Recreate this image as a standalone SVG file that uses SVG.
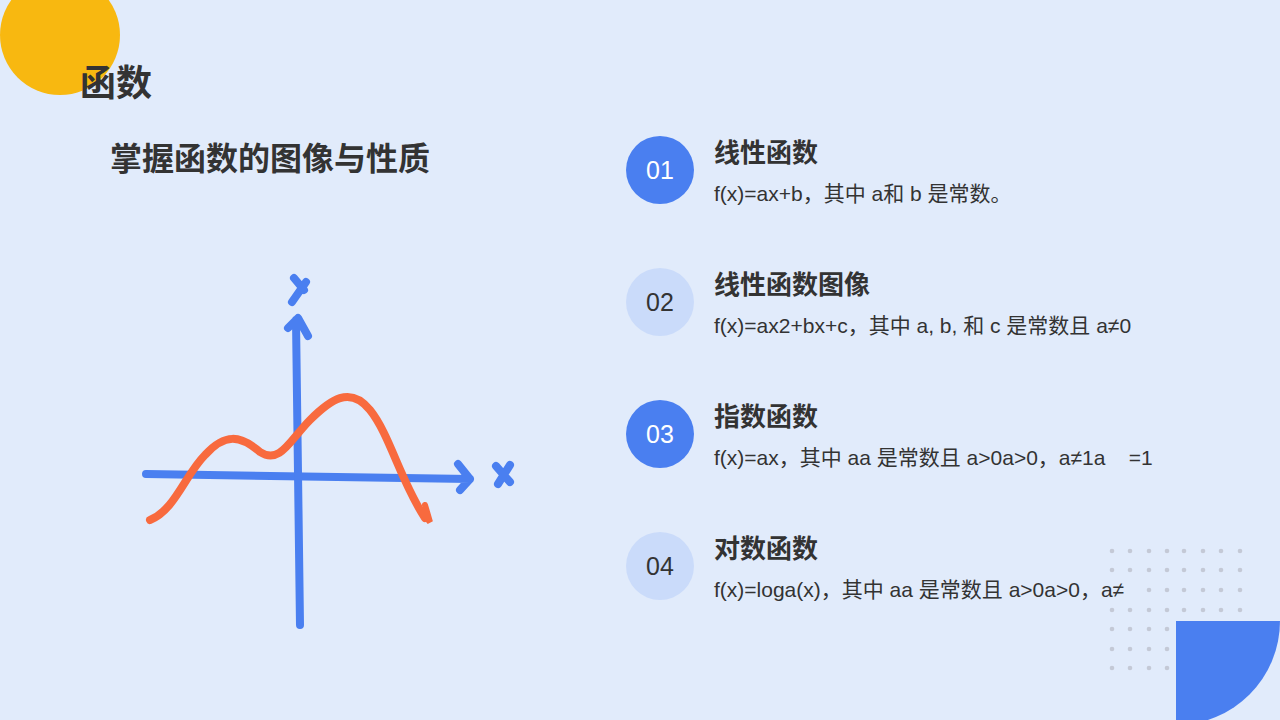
<svg xmlns="http://www.w3.org/2000/svg" width="1280" height="720" viewBox="0 0 1280 720">
<style>
.t{font-family:"Liberation Sans","Noto Sans CJK SC",sans-serif;fill:#333}
.h{font-size:26px;font-weight:bold}
.d{font-size:21px;fill:#333}
.n{font-family:"Liberation Sans",sans-serif;font-size:25px;text-anchor:middle}
.ax{fill:none;stroke:#4a7ff0;stroke-width:8;stroke-linecap:round;stroke-linejoin:round}
.dot{fill:#c4c9d6}
</style>
<rect width="1280" height="720" fill="#e1ebfb"/>
<circle cx="60" cy="35" r="60" fill="#f8b810"/>
<text class="t" x="80" y="96" font-size="36" font-weight="bold">函数</text>
<text class="t" x="110" y="170" font-size="32" font-weight="bold">掌握函数的图像与性质</text>
<g id="graph">
<path class="ax" d="M146 474 L470 479 M458 464 L470 479 L460 490"/>
<path class="ax" d="M300 625 L296 320 M288 328 L298 318 L308 336"/>
<path class="ax" d="M496 466 L510 482 M510 465 L498 484"/>
<path class="ax" d="M292 302 L306 282 M294 278 L304 290"/>
<path d="M150 520 C175 510 185 475 205 455 C225 433 240 435 260 452 C280 465 290 440 310 420 C330 400 350 385 370 410 C390 435 400 480 425 518" fill="none" stroke="#f86a3e" stroke-width="8" stroke-linecap="round"/>
<path d="M420 510 L430 522 L425 505" fill="none" stroke="#f86a3e" stroke-width="6" stroke-linecap="round"/>
</g>
<g id="item1"><circle cx="660" cy="170" r="34" fill="#4a7ff0"/><text class="n" x="660" y="179" fill="#fff">01</text>
<text class="t h" x="714" y="162">线性函数</text><text class="t d" x="714" y="201">f(x)=ax+b，其中 a和 b 是常数。</text></g>
<g id="item2"><circle cx="660" cy="302" r="34" fill="#cadbfa"/><text class="n" x="660" y="311" fill="#333">02</text>
<text class="t h" x="714" y="294">线性函数图像</text><text class="t d" x="714" y="333">f(x)=ax2+bx+c，其中 a, b, 和 c 是常数且 a≠0</text></g>
<g id="item3"><circle cx="660" cy="434" r="34" fill="#4a7ff0"/><text class="n" x="660" y="443" fill="#fff">03</text>
<text class="t h" x="714" y="426">指数函数</text><text class="t d" x="714" y="465" xml:space="preserve">f(x)=ax，其中 aa 是常数且 a&gt;0a&gt;0，a≠1a    =1</text></g>
<g id="item4"><circle cx="660" cy="566" r="34" fill="#cadbfa"/><text class="n" x="660" y="575" fill="#333">04</text>
<text class="t h" x="714" y="558">对数函数</text></g>
<g id="dots">
<g class="dot">
<circle cx="1112" cy="551" r="2.3"/><circle cx="1130" cy="551" r="2.3"/><circle cx="1149" cy="551" r="2.3"/><circle cx="1167" cy="551" r="2.3"/><circle cx="1184" cy="551" r="2.3"/><circle cx="1203" cy="551" r="2.3"/><circle cx="1221" cy="551" r="2.3"/><circle cx="1240" cy="551" r="2.3"/>
<circle cx="1112" cy="570" r="2.3"/><circle cx="1130" cy="570" r="2.3"/><circle cx="1149" cy="570" r="2.3"/><circle cx="1167" cy="570" r="2.3"/><circle cx="1184" cy="570" r="2.3"/><circle cx="1203" cy="570" r="2.3"/><circle cx="1221" cy="570" r="2.3"/><circle cx="1240" cy="570" r="2.3"/>
<circle cx="1149" cy="590" r="2.3"/><circle cx="1167" cy="590" r="2.3"/><circle cx="1184" cy="590" r="2.3"/><circle cx="1203" cy="590" r="2.3"/><circle cx="1221" cy="590" r="2.3"/><circle cx="1240" cy="590" r="2.3"/>
<circle cx="1112" cy="610" r="2.3"/><circle cx="1130" cy="610" r="2.3"/><circle cx="1149" cy="610" r="2.3"/><circle cx="1167" cy="610" r="2.3"/><circle cx="1184" cy="610" r="2.3"/><circle cx="1203" cy="610" r="2.3"/><circle cx="1221" cy="610" r="2.3"/><circle cx="1240" cy="610" r="2.3"/>
<circle cx="1112" cy="629" r="2.3"/><circle cx="1130" cy="629" r="2.3"/><circle cx="1149" cy="629" r="2.3"/><circle cx="1167" cy="629" r="2.3"/>
<circle cx="1112" cy="649" r="2.3"/><circle cx="1130" cy="649" r="2.3"/><circle cx="1149" cy="649" r="2.3"/><circle cx="1167" cy="649" r="2.3"/>
<circle cx="1112" cy="668" r="2.3"/><circle cx="1130" cy="668" r="2.3"/><circle cx="1149" cy="668" r="2.3"/><circle cx="1167" cy="668" r="2.3"/>
</g></g>
<text class="t d" x="714" y="597">f(x)=loga(x)，其中 aa 是常数且 a&gt;0a&gt;0，a≠</text>
<path d="M1176 621 H1280 A104 104 0 0 1 1176 725 Z" fill="#4a7ff0"/>
</svg>
